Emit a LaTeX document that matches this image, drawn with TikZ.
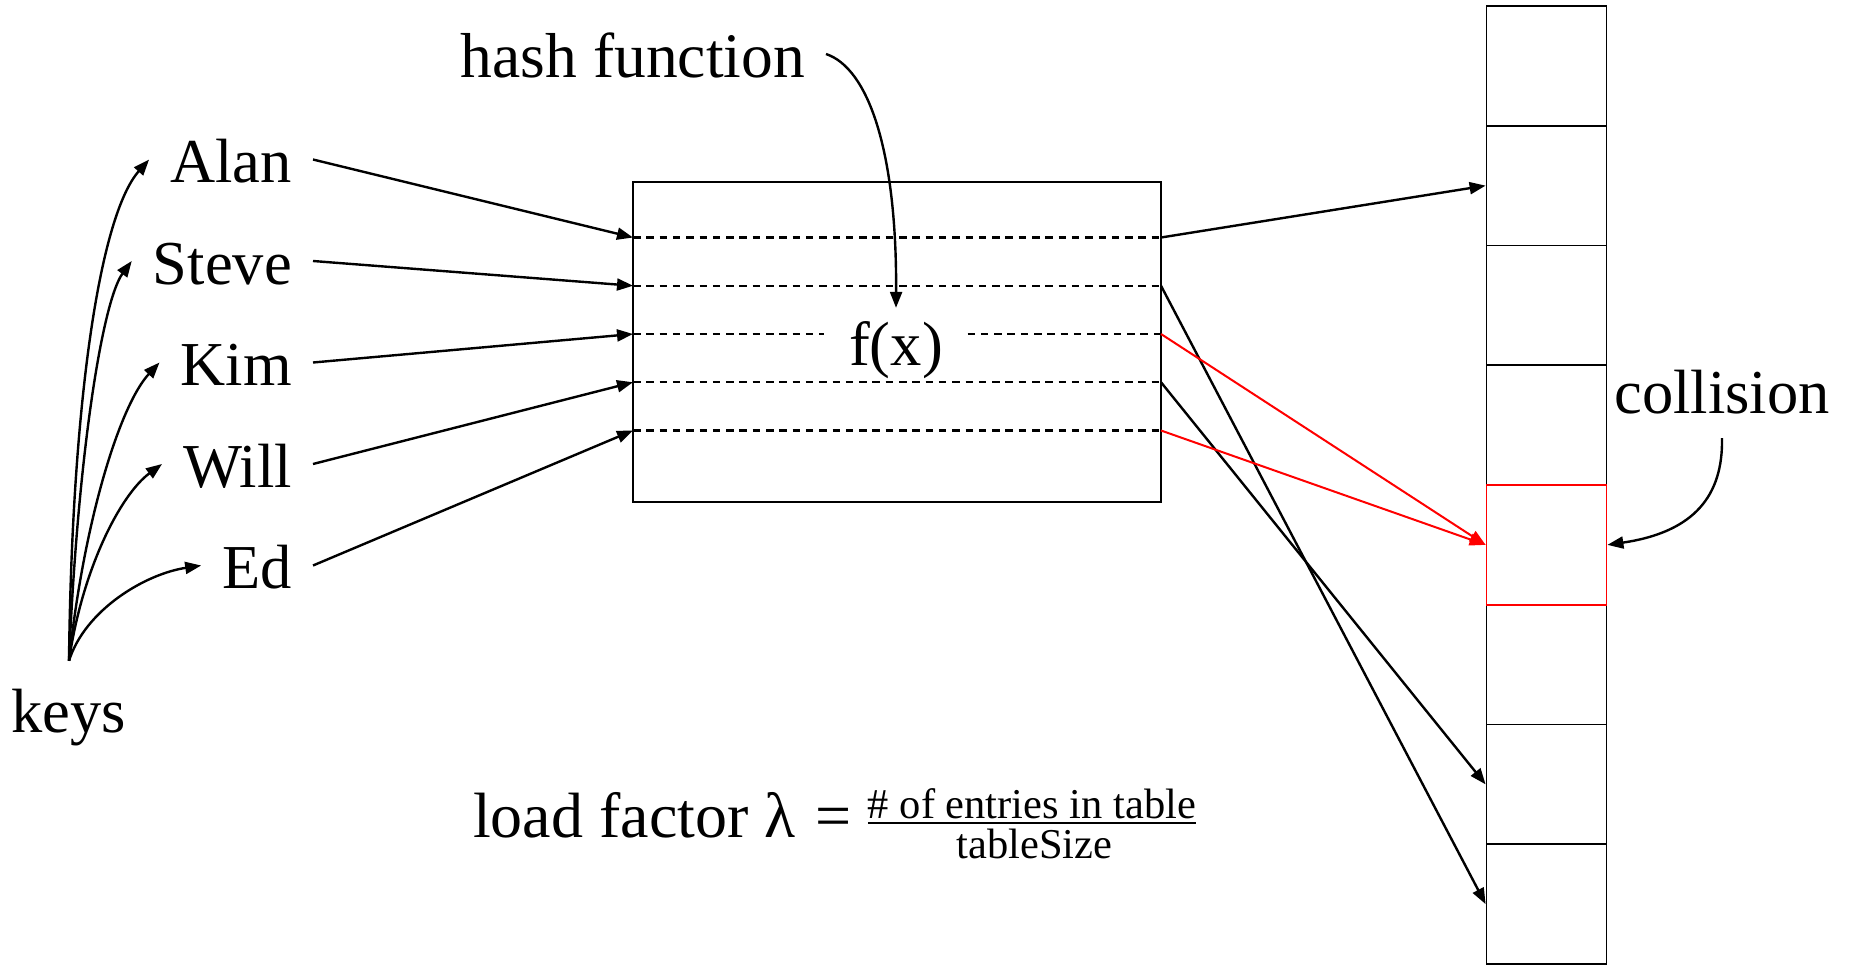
\documentclass[tikz,border=0pt]{standalone}
\usepackage{fontspec}
\setmainfont{Liberation Serif}
\usetikzlibrary{arrows.meta}
\begin{document}
\begin{tikzpicture}[x=1pt,y=-1pt,
  bigtext/.style={font=\fontsize{62.5}{70}\selectfont},
  lbl/.style={bigtext, text height=46pt, text depth=0pt, inner xsep=21pt, inner ysep=0pt},
  arr/.style={line width=2.4pt, -{Triangle[length=16pt,width=12pt]}},
  redarr/.style={line width=2pt, red, -{Triangle[length=16pt,width=12pt]}},
  dashln/.style={line width=2.4pt, dash pattern=on 7.5pt off 5.8pt},
  cell/.style={draw, line width=1.8pt, minimum width=120pt, minimum height=119.75pt, inner sep=0pt},
  formtext/.style={font=\fontsize{64}{70}\selectfont, inner sep=0pt},
  smalltext/.style={font=\fontsize{42.5}{45}\selectfont, inner sep=0pt}
]
\useasboundingbox (0,0) rectangle (1849,964);

% keys and names
\node[lbl, inner ysep=25pt, anchor=base] (keys) at (69,732) {keys};
\node[lbl, anchor=base east] (alan)  at (313,182.5) {Alan};
\node[lbl, anchor=base east] (steve) at (313,284) {Steve};
\node[lbl, anchor=base east] (kim)   at (313,385.5) {Kim};
\node[lbl, anchor=base east] (will)  at (313,487) {Will};
\node[lbl, anchor=base east] (ed)    at (313,588.5) {Ed};

% hash function box
\node[draw, line width=2.4pt, minimum width=528pt, minimum height=320pt, inner sep=0pt] (hf) at (897,342) {};
\coordinate (l1) at (633,237.5);  \coordinate (r1) at (1161,237.5);
\coordinate (l2) at (633,285.75); \coordinate (r2) at (1161,285.75);
\coordinate (l3) at (633,334);    \coordinate (r3) at (1161,334);
\coordinate (l4) at (633,382.25); \coordinate (r4) at (1161,382.25);
\coordinate (l5) at (633,430.5);  \coordinate (r5) at (1161,430.5);
\node[bigtext, text height=57pt, text depth=16pt, inner xsep=24.5pt, inner ysep=0pt, anchor=base] (fx) at (896,365) {f(x)};
\node[lbl, font=\fontsize{63.5}{70}\selectfont, anchor=base east] (hash) at (826,77) {hash function};

\draw[dashln] (l1) -- (r1);
\draw[dashln] (l2) -- (r2);
\draw[dashln] (l3) -- (l3 -| fx.west);
\draw[dashln] (fx.east |- r3) -- (r3);
\draw[dashln] (l4) -- (r4);
\draw[dashln] (l5) -- (r5);

% table
\foreach \i in {1,2,3,4,6,7,8}
  \node[cell] (c\i) at (1546.5,{6+119.75*(\i-0.5)}) {};
\node[cell, draw=red] (c5) at (1546.5,{6+119.75*4.5}) {};

\node[lbl, inner ysep=25pt, anchor=base] (coll) at (1722,413) {collision};

% formula
\node[formtext, anchor=base west] (lf) at (473,837) {load factor λ};
\node[formtext, anchor=base west] (eq) at (815,837) {=};
\node[smalltext, text depth=5pt, anchor=base] (num) at (1032,818) {\# of entries in table};
\node[smalltext, text height=28pt, anchor=base] (den) at (1034.5,858) {tableSize};
\draw[line width=2pt] (num.south west) -- (num.south east);

% keys curves
\draw[arr] (keys.north) .. controls (72,400) and (100,215) .. (alan.west);
\draw[arr] (keys.north) .. controls (78,450) and (103,300) .. (steve.west);
\draw[arr] (keys.north) .. controls (84,520) and (120,405) .. (kim.west);
\draw[arr] (keys.north) .. controls (82,570) and (120,495) .. (will.west);
\draw[arr] (keys.north) .. controls (85,610) and (145,574) .. (ed.west);

% names into box
\draw[arr] (alan.east) -- (l1);
\draw[arr] (steve.east) -- (l2);
\draw[arr] (kim.east) -- (l3);
\draw[arr] (will.east) -- (l4);
\draw[arr] (ed.east) -- (l5);

% hash function arrow
\draw[arr] (hash.east) .. controls (868,68) and (897,150) .. (fx.north);

% box to table
\draw[arr] (r1) -- (c2.west);
\draw[arr] (r2) -- (c8.west);
\draw[arr] (r4) -- (c7.west);
\draw[redarr] (r3) -- (c5.west);
\draw[redarr] (r5) -- (c5.west);

% collision arrow
\draw[arr] (coll.south) .. controls (1723,495) and (1695,532) .. (c5.east);
\end{tikzpicture}
\end{document}
